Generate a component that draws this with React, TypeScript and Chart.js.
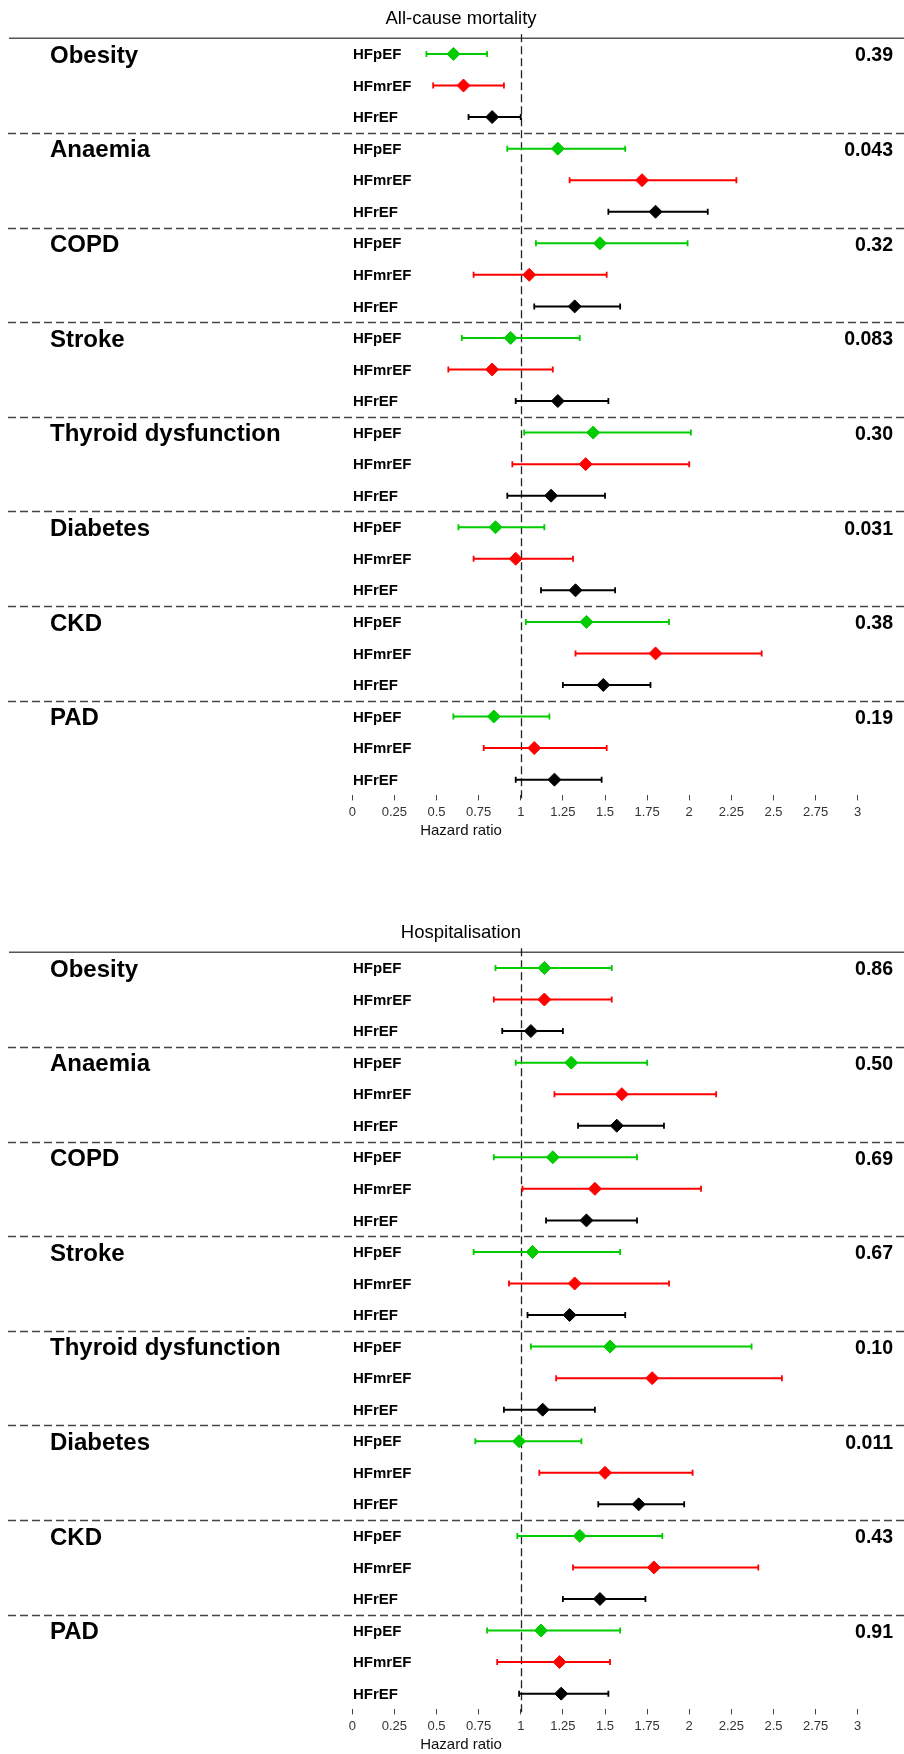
import React, { useEffect, useRef } from 'react';
import { Chart, registerables } from 'chart.js';

Chart.register(...registerables);

// ---------- data ----------
const categories = ['Obesity', 'Anaemia', 'COPD', 'Stroke', 'Thyroid dysfunction', 'Diabetes', 'CKD', 'PAD'];
const hfTypes = ['HFpEF', 'HFmrEF', 'HFrEF'];
const hfColors = ['#00CC00', '#FF0000', '#000000'];
const xTickValues = [0, 0.25, 0.5, 0.75, 1, 1.25, 1.5, 1.75, 2, 2.25, 2.5, 2.75, 3];
const xTickLabels = ['0', '0.25', '0.5', '0.75', '1', '1.25', '1.5', '1.75', '2', '2.25', '2.5', '2.75', '3'];
const xAxisTitle = 'Hazard ratio';

// All-cause mortality
const mortalityTitle = 'All-cause mortality';
const mortPEF_hr = [0.6, 1.22, 1.47, 0.94, 1.43, 0.85, 1.39, 0.84];
const mortPEF_lo = [0.44, 0.92, 1.09, 0.65, 1.02, 0.63, 1.03, 0.6];
const mortPEF_hi = [0.8, 1.62, 1.99, 1.35, 2.01, 1.14, 1.88, 1.17];
const mortMREF_hr = [0.66, 1.72, 1.05, 0.83, 1.385, 0.97, 1.8, 1.08];
const mortMREF_lo = [0.48, 1.29, 0.72, 0.57, 0.95, 0.72, 1.325, 0.78];
const mortMREF_hi = [0.9, 2.28, 1.51, 1.19, 2.0, 1.31, 2.43, 1.51];
const mortREF_hr = [0.83, 1.8, 1.32, 1.22, 1.18, 1.325, 1.49, 1.2];
const mortREF_lo = [0.69, 1.52, 1.08, 0.97, 0.92, 1.12, 1.25, 0.97];
const mortREF_hi = [1.0, 2.11, 1.59, 1.52, 1.5, 1.56, 1.77, 1.48];
const mortP = ['0.39', '0.043', '0.32', '0.083', '0.30', '0.031', '0.38', '0.19'];

// Hospitalisation
const hospTitle = 'Hospitalisation';
const hospPEF_hr = [1.14, 1.3, 1.19, 1.07, 1.53, 0.99, 1.35, 1.12];
const hospPEF_lo = [0.85, 0.97, 0.84, 0.72, 1.06, 0.73, 0.98, 0.8];
const hospPEF_hi = [1.54, 1.75, 1.69, 1.59, 2.37, 1.36, 1.84, 1.59];
const hospMREF_hr = [1.14, 1.6, 1.44, 1.32, 1.78, 1.5, 1.79, 1.23];
const hospMREF_lo = [0.84, 1.2, 1.01, 0.93, 1.21, 1.11, 1.31, 0.86];
const hospMREF_hi = [1.54, 2.16, 2.07, 1.88, 2.55, 2.02, 2.41, 1.53];
const hospREF_hr = [1.06, 1.57, 1.39, 1.29, 1.13, 1.7, 1.47, 1.24];
const hospREF_lo = [0.89, 1.34, 1.15, 1.04, 0.9, 1.46, 1.25, 0.99];
const hospREF_hi = [1.25, 1.85, 1.69, 1.62, 1.44, 1.97, 1.74, 1.52];
const hospP = ['0.86', '0.50', '0.69', '0.67', '0.10', '0.011', '0.43', '0.91'];

const FONT = '"Liberation Sans", Arial, Helvetica, sans-serif';

type PanelProps = {
  title: string;
  hr: number[][];
  lo: number[][];
  hi: number[][];
  pvals: string[];
  height: number;
};

function Panel({ title, hr, lo, hi, pvals, height }: PanelProps) {
  const ref = useRef<HTMLCanvasElement | null>(null);

  useEffect(() => {
    if (!ref.current) return;
    const nRows = categories.length * 3;

    const forestPlugin = {
      id: 'forest',
      beforeDatasetsDraw(chart: any) {
        const { ctx, chartArea } = chart;
        const x = chart.scales.x;
        const y = chart.scales.y;
        const W = chart.width;
        ctx.save();
        // top solid line
        const yTop = y.getPixelForValue(-0.5);
        ctx.setLineDash([]);
        ctx.strokeStyle = '#555';
        ctx.lineWidth = 1.6;
        ctx.beginPath();
        ctx.moveTo(9, yTop);
        ctx.lineTo(W, yTop);
        ctx.stroke();
        // group separators
        ctx.setLineDash([8, 4]);
        ctx.strokeStyle = '#444';
        ctx.lineWidth = 1.4;
        for (let g = 1; g < categories.length; g++) {
          const yy = Math.round(y.getPixelForValue(g * 3 - 0.5)) + 0.5;
          ctx.beginPath();
          ctx.moveTo(8, yy);
          ctx.lineTo(W, yy);
          ctx.stroke();
        }
        // reference line at HR = 1
        const x1 = Math.round(x.getPixelForValue(1)) + 0.5;
        ctx.strokeStyle = '#222';
        ctx.lineWidth = 1.3;
        ctx.setLineDash([8, 4]);
        ctx.beginPath();
        ctx.moveTo(x1, yTop - 4);
        ctx.lineTo(x1, chartArea.bottom + 3);
        ctx.stroke();
        // confidence intervals
        ctx.setLineDash([]);
        for (let j = 0; j < 3; j++) {
          ctx.strokeStyle = hfColors[j];
          for (let g = 0; g < categories.length; g++) {
            const py = y.getPixelForValue(g * 3 + j);
            const pl = x.getPixelForValue(lo[j][g]);
            const ph = x.getPixelForValue(hi[j][g]);
            ctx.lineWidth = 2;
            ctx.beginPath();
            ctx.moveTo(pl, py);
            ctx.lineTo(ph, py);
            ctx.stroke();
            ctx.lineWidth = 1.8;
            ctx.beginPath();
            ctx.moveTo(pl, py - 3);
            ctx.lineTo(pl, py + 3);
            ctx.moveTo(ph, py - 3);
            ctx.lineTo(ph, py + 3);
            ctx.stroke();
          }
        }
        ctx.restore();
      },
      afterDraw(chart: any) {
        const { ctx } = chart;
        const y = chart.scales.y;
        ctx.save();
        ctx.textBaseline = 'middle';
        // panel title
        ctx.fillStyle = '#000';
        ctx.textAlign = 'center';
        ctx.font = `18.5px ${FONT}`;
        ctx.fillText(title, 461, 19);
        // x axis title
        ctx.font = `15px ${FONT}`;
        ctx.fillStyle = '#111';
        ctx.fillText(xAxisTitle, 461, chart.scales.y.getPixelForValue(nRows - 0.5) + 35);
        for (let g = 0; g < categories.length; g++) {
          const yRow0 = y.getPixelForValue(g * 3);
          // category label
          ctx.textAlign = 'left';
          ctx.fillStyle = '#000';
          ctx.font = `bold 24px ${FONT}`;
          ctx.fillText(categories[g], 50, yRow0 + 2);
          // p value
          ctx.textAlign = 'right';
          ctx.font = `bold 19.5px ${FONT}`;
          ctx.fillText(pvals[g], 893, yRow0 + 2);
          // HF type labels
          ctx.textAlign = 'left';
          ctx.font = `bold 15px ${FONT}`;
          for (let j = 0; j < 3; j++) {
            ctx.fillText(hfTypes[j], 353, y.getPixelForValue(g * 3 + j) + 1);
          }
        }
        ctx.restore();
      },
    };

    const datasets = hfTypes.map((name, j) => ({
      label: name,
      data: hr[j].map((v, g) => ({ x: v, y: g * 3 + j })),
      pointStyle: 'rectRot',
      pointRadius: 6.5,
      pointHoverRadius: 6.5,
      pointBorderWidth: 1,
      backgroundColor: hfColors[j],
      borderColor: hfColors[j],
      showLine: false,
      clip: false as any,
    }));

    const bottomPad = height - (38.2 + 757.2) - 40;

    const chart = new Chart(ref.current, {
      type: 'scatter',
      data: { datasets: datasets as any },
      options: {
        responsive: true,
        maintainAspectRatio: false,
        animation: false,
        events: [],
        layout: { padding: { left: 352.3, right: 46.3, top: 38.2, bottom: bottomPad } },
        plugins: {
          legend: { display: false },
          tooltip: { enabled: false },
          title: { display: false },
        },
        scales: {
          x: {
            type: 'linear',
            min: 0,
            max: 3,
            position: 'bottom',
            afterBuildTicks: (s: any) => {
              s.ticks = xTickValues.map((v) => ({ value: v }));
            },
            afterFit: (s: any) => {
              s.height = 40;
            },
            ticks: {
              autoSkip: false,
              maxRotation: 0,
              minRotation: 0,
              color: '#333',
              padding: 4,
              font: { family: FONT, size: 13 },
              callback: (_v: any, i: number) => xTickLabels[i],
            },
            grid: {
              drawOnChartArea: false,
              drawTicks: true,
              tickLength: 5,
              color: '#444',
              lineWidth: 1,
            },
            border: { display: false },
          },
          y: {
            type: 'linear',
            min: -0.5,
            max: nRows - 0.5,
            reverse: true,
            display: false,
          },
        },
      },
      plugins: [forestPlugin],
    });
    return () => chart.destroy();
  }, [title, hr, lo, hi, pvals, height]);

  return (
    <div style={{ position: 'relative', width: 904, height }}>
      <canvas ref={ref} style={{ display: 'block' }} />
    </div>
  );
}

const mortHR = [mortPEF_hr, mortMREF_hr, mortREF_hr];
const mortLO = [mortPEF_lo, mortMREF_lo, mortREF_lo];
const mortHI = [mortPEF_hi, mortMREF_hi, mortREF_hi];
const hospHR = [hospPEF_hr, hospMREF_hr, hospREF_hr];
const hospLO = [hospPEF_lo, hospMREF_lo, hospREF_lo];
const hospHI = [hospPEF_hi, hospMREF_hi, hospREF_hi];

export default function App() {
  useEffect(() => {
    document.body.style.margin = '0';
    document.body.style.background = '#fff';
  }, []);
  return (
    <div style={{ width: 904, height: 1754, background: '#fff' }}>
      <Panel title={mortalityTitle} hr={mortHR} lo={mortLO} hi={mortHI} pvals={mortP} height={914} />
      <Panel title={hospTitle} hr={hospHR} lo={hospLO} hi={hospHI} pvals={hospP} height={840} />
    </div>
  );
}
